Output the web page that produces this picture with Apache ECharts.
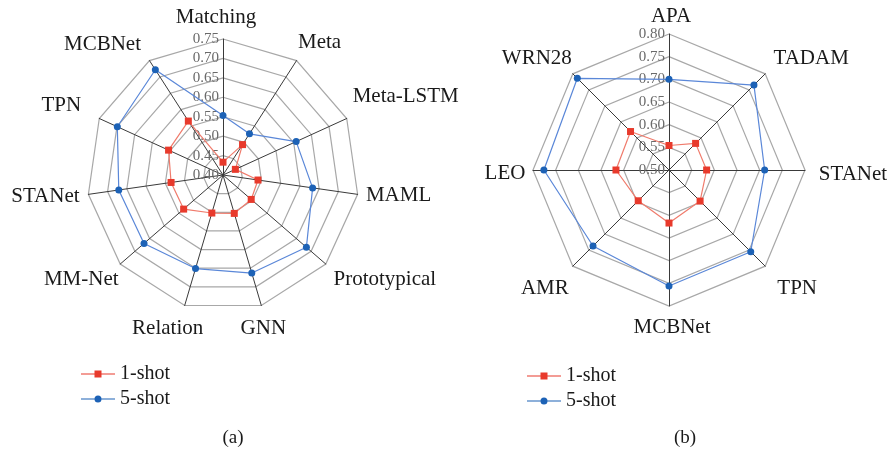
<!DOCTYPE html>
<html>
<head>
<meta charset="utf-8">
<script src="https://cdn.jsdelivr.net/npm/echarts@6/dist/echarts.min.js"></script>
<style>
  html, body { margin: 0; padding: 0; background: #ffffff; }
  #chart { width: 892px; height: 453px; }
</style>
</head>
<body>
<div id="chart"></div>
<script>
// (a) methods, listed clockwise from the top axis
const methodsA = ['Matching', 'Meta', 'Meta-LSTM', 'MAML', 'Prototypical', 'GNN',
                  'Relation', 'MM-Net', 'STANet', 'TPN', 'MCBNet'];
const oneShotA  = [0.433, 0.493, 0.435, 0.491, 0.496, 0.503, 0.502, 0.534, 0.535, 0.554, 0.565];
const fiveShotA = [0.553, 0.526, 0.607, 0.633, 0.684, 0.663, 0.651, 0.669, 0.671, 0.699, 0.722];
const rangeA = [0.40, 0.75];
const stepsA = 7;

// (b) methods, listed clockwise from the top axis
const methodsB = ['APA', 'TADAM', 'STANet', 'TPN', 'MCBNet', 'AMR', 'LEO', 'WRN28'];
const oneShotB  = [0.554, 0.583, 0.583, 0.597, 0.617, 0.596, 0.617, 0.620];
const fiveShotB = [0.700, 0.765, 0.711, 0.755, 0.756, 0.737, 0.776, 0.786];
const rangeB = [0.50, 0.80];
const stepsB = 6;

const legendNames = ['1-shot', '5-shot'];
const captions = ['(a)', '(b)'];

// Label placement: offset of each axis name's centre from its axis end, in px.
const nameNudgeA = [[-7, -22], [23, -18], [59, -22], [41, 1], [59, 15], [2, 23],
                    [-17, 23], [-39, 15], [-43, 2], [-38, -13], [-47, -16]];
const nameNudgeB = [[2, -18], [46, -15], [48, 4], [32, 22], [3, 21], [-28, 22],
                    [-28, 3], [-36, -15]];

// ECharts lays radar axes out counter-clockwise; reorder to run clockwise.
function clockwise(arr) {
  return [arr[0]].concat(arr.slice(1).reverse());
}

const RED_LINE = '#f07b6c', RED_MARK = '#e83a2c';
const BLUE_LINE = '#5a87d8', BLUE_MARK = '#1d62b6';
const SERIF = '"Liberation Serif", "Times New Roman", serif';
const NAME_SIZE = 21;

function indicators(names, range) {
  return clockwise(names).map((name, i) => {
    const ind = { name: name, min: range[0], max: range[1] };
    if (i === 0) ind.axisLabel = { show: true };
    return ind;
  });
}

function nameRich(names, nudges) {
  const rich = {};
  names.forEach((n, i) => {
    const dx = nudges[i][0], dy = nudges[i][1];
    rich['n' + i] = {
      fontFamily: SERIF,
      fontSize: NAME_SIZE,
      color: '#1a1a1a',
      padding: [Math.max(dy, 0) * 2, Math.max(-dx, 0) * 2, Math.max(-dy, 0) * 2, Math.max(dx, 0) * 2]
    };
  });
  return rich;
}

function radarCoord(center, names, range, steps, nudges) {
  return {
    center: center,
    radius: 136,
    startAngle: 90,
    shape: 'polygon',
    splitNumber: steps,
    indicator: indicators(names, range),
    nameGap: 0,
    axisName: {
      color: '#1a1a1a',
      fontFamily: SERIF,
      fontSize: NAME_SIZE,
      align: 'center',
      verticalAlign: 'middle',
      formatter: name => '{n' + names.indexOf(name) + '|' + name + '}',
      rich: nameRich(names, nudges)
    },
    axisLine: { lineStyle: { color: '#3a3a3a', width: 1 } },
    splitLine: { lineStyle: { color: '#a8a8a8', width: 1.2 } },
    splitArea: { show: false },
    axisTick: { show: false },
    axisLabel: {
      show: false,
      color: '#6a6a6a',
      fontFamily: SERIF,
      fontSize: 15,
      margin: 4,
      formatter: v => v.toFixed(2)
    }
  };
}

function radarSeries(radarIndex, name, values, lineColor, markColor, symbol) {
  return {
    type: 'radar',
    name: name,
    radarIndex: radarIndex,
    symbol: symbol,
    symbolSize: 7,
    lineStyle: { color: lineColor, width: 1.2 },
    itemStyle: { color: markColor },
    z: name === '5-shot' ? 3 : 4,
    data: [{ name: name, value: clockwise(values) }]
  };
}

const iconSquare = 'path://M0,4.4H34V5.6H0Z M13.5,1.5H20.5V8.5H13.5Z';
const iconCircle = 'path://M0,4.4H34V5.6H0Z M20.5,5A3.5,3.5,0,1,1,13.5,5A3.5,3.5,0,1,1,20.5,5Z';

function legendAt(left, top) {
  return {
    orient: 'vertical',
    left: left,
    top: top,
    itemWidth: 34,
    itemHeight: 10,
    itemGap: 5,
    selectedMode: false,
    textStyle: { color: '#1a1a1a', fontFamily: SERIF, fontSize: 20, lineHeight: 19 },
    data: [
      { name: legendNames[0], icon: iconSquare, itemStyle: { color: RED_MARK } },
      { name: legendNames[1], icon: iconCircle, itemStyle: { color: BLUE_MARK } }
    ]
  };
}

const captionStyle = { color: '#1a1a1a', fontFamily: SERIF, fontSize: 19, fontWeight: 'normal' };

const chart = echarts.init(document.getElementById('chart'), null, { renderer: 'canvas' });
chart.setOption({
  backgroundColor: '#ffffff',
  animation: false,
  title: [
    { text: captions[0], left: 228, top: 424, textAlign: 'center', textStyle: captionStyle },
    { text: captions[1], left: 680, top: 424, textAlign: 'center', textStyle: captionStyle }
  ],
  legend: [legendAt(76, 359), legendAt(522, 361)],
  radar: [
    radarCoord([223, 175], methodsA, rangeA, stepsA, nameNudgeA),
    radarCoord([669, 170], methodsB, rangeB, stepsB, nameNudgeB)
  ],
  series: [
    radarSeries(0, legendNames[1], fiveShotA, BLUE_LINE, BLUE_MARK, 'circle'),
    radarSeries(0, legendNames[0], oneShotA, RED_LINE, RED_MARK, 'rect'),
    radarSeries(1, legendNames[1], fiveShotB, BLUE_LINE, BLUE_MARK, 'circle'),
    radarSeries(1, legendNames[0], oneShotB, RED_LINE, RED_MARK, 'rect')
  ]
});
</script>
</body>
</html>
